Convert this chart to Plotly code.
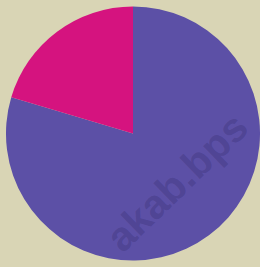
import plotly.graph_objects as go

labels = ["Kategori A", "Kategori B"]
values = [79.6, 20.4]
colors = ["#5c50a6", "#d5137f"]
watermark = "akab.bps"

fig = go.Figure(go.Pie(
    labels=labels,
    values=values,
    marker=dict(colors=colors, line=dict(width=0)),
    sort=False,
    direction="clockwise",
    rotation=0,
    textinfo="none",
    hoverinfo="label+percent",
    domain=dict(x=[0.023, 1.0], y=[0.024, 0.976]),
    showlegend=False,
))

fig.add_annotation(
    text=watermark, x=177/260, y=1-182/267, xref="paper", yref="paper",
    xanchor="center", yanchor="middle",
    showarrow=False, textangle=-44,
    font=dict(family="Liberation Sans", size=41, color="rgba(40,30,90,0.24)", weight="bold"),
)

fig.update_layout(
    width=260, height=267,
    margin=dict(l=0, r=0, t=0, b=0),
    paper_bgcolor="#d9d5b5",
    plot_bgcolor="#d9d5b5",
)

fig.write_html(
    "out.html",
    config={"displayModeBar": False},
    post_script="document.body.style.margin='0px';document.documentElement.style.overflow='hidden';",
)
